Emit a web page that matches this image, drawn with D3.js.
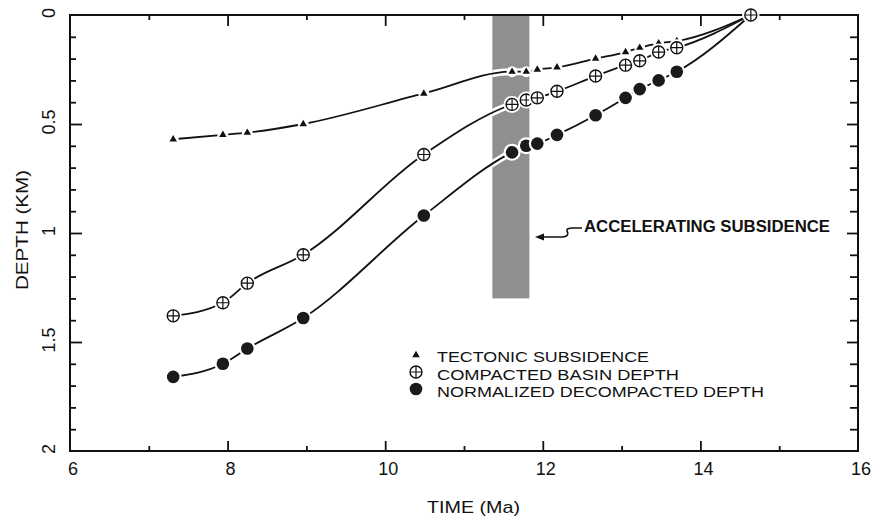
<!DOCTYPE html>
<html lang="en">
<head>
<meta charset="utf-8">
<title>Subsidence history</title>
<script src="https://cdn.jsdelivr.net/npm/d3@7"></script>
<style>
  body { margin: 0; background: #fff; }
  svg { display: block; }
  text { font-family: "Liberation Sans", "DejaVu Sans", sans-serif; fill: #111; }
</style>
</head>
<body>
<svg id="chart" width="872" height="517"></svg>
<script>
// ages (Ma) shared by the three series
var times = [7.31, 7.94, 8.25, 8.96, 10.49, 11.61, 11.79, 11.93, 12.18, 12.67, 13.05, 13.23, 13.47, 13.70, 14.64];
// depths (km)
var tectonic    = [0.57, 0.55, 0.54, 0.50, 0.36, 0.26, 0.26, 0.25, 0.24, 0.20, 0.17, 0.15, 0.13, 0.12, 0];
var compacted   = [1.38, 1.32, 1.23, 1.10, 0.64, 0.41, 0.39, 0.38, 0.35, 0.28, 0.23, 0.21, 0.17, 0.15, 0];
var decompacted = [1.66, 1.60, 1.53, 1.39, 0.92, 0.63, 0.60, 0.59, 0.55, 0.46, 0.38, 0.34, 0.30, 0.26, 0];

var xTicks = [6, 8, 10, 12, 14, 16];
var xMinor = [7, 9, 11, 13, 15];
var yTicks = [0, 0.5, 1, 1.5, 2];
var yTickLabels = ["0", "0.5", "1", "1.5", "2"];
var yMinor = [0.1, 0.2, 0.3, 0.4, 0.6, 0.7, 0.8, 0.9, 1.1, 1.2, 1.3, 1.4, 1.6, 1.7, 1.8, 1.9];

// accelerating subsidence interval
var bandTime = [11.36, 11.83];
var bandDepth = [0, 1.3];

var legendLabels = ["TECTONIC SUBSIDENCE", "COMPACTED BASIN DEPTH", "NORMALIZED DECOMPACTED DEPTH"];

var svg = d3.select("#chart");
var x = d3.scaleLinear().domain([6, 16]).range([70, 858]);
var y = d3.scaleLinear().domain([0, 2]).range([15, 451]);

var series = [
  { key: "tri", values: tectonic },
  { key: "dot", values: decompacted },
  { key: "plus", values: compacted }
];

// shaded band
svg.append("defs").append("clipPath").attr("id", "bandClip")
  .append("rect")
  .attr("x", x(bandTime[0])).attr("y", y(bandDepth[0]))
  .attr("width", x(bandTime[1]) - x(bandTime[0]))
  .attr("height", y(bandDepth[1]) - y(bandDepth[0]));

svg.append("rect")
  .attr("x", x(bandTime[0])).attr("y", y(bandDepth[0]))
  .attr("width", x(bandTime[1]) - x(bandTime[0]))
  .attr("height", y(bandDepth[1]) - y(bandDepth[0]))
  .attr("fill", "#8f8f8f");

// axes: ticks point inward
function tickStyle(g) {
  g.select(".domain").remove();
  g.selectAll(".tick line").attr("stroke", "#111").attr("stroke-width", 1.8);
  g.selectAll(".tick text").remove();
}
svg.append("g").attr("transform", "translate(0,451)")
  .call(d3.axisBottom(x).tickValues(xTicks.slice(1, -1)).tickSize(-10)).call(tickStyle);
svg.append("g").attr("transform", "translate(0,451)")
  .call(d3.axisBottom(x).tickValues(xMinor).tickSize(-5)).call(tickStyle);
svg.append("g").attr("transform", "translate(0,15)")
  .call(d3.axisTop(x).tickValues(xTicks.slice(1, -1)).tickSize(-11)).call(tickStyle);
svg.append("g").attr("transform", "translate(0,15)")
  .call(d3.axisTop(x).tickValues(xMinor).tickSize(-5)).call(tickStyle);
svg.append("g").attr("transform", "translate(70,0)")
  .call(d3.axisLeft(y).tickValues(yTicks.slice(1, -1)).tickSize(-12)).call(tickStyle);
svg.append("g").attr("transform", "translate(70,0)")
  .call(d3.axisLeft(y).tickValues(yMinor).tickSize(-6)).call(tickStyle);
svg.append("g").attr("transform", "translate(858,0)")
  .call(d3.axisRight(y).tickValues(yTicks.slice(1, -1)).tickSize(-11)).call(tickStyle);
svg.append("g").attr("transform", "translate(858,0)")
  .call(d3.axisRight(y).tickValues(yMinor).tickSize(-8)).call(tickStyle);

svg.append("rect")
  .attr("x", 70).attr("y", 15).attr("width", 788).attr("height", 436)
  .attr("fill", "none").attr("stroke", "#111").attr("stroke-width", 2);

// tick labels
svg.append("g").selectAll("text").data(xTicks).enter().append("text")
  .attr("x", function (d) { return x(d) + 3; })
  .attr("y", 475)
  .attr("text-anchor", "middle")
  .attr("font-size", 18)
  .text(function (d) { return d; });

svg.append("g").selectAll("text").data(yTicks).enter().append("text")
  .attr("transform", function (d) { return "translate(55," + (y(d) - 2) + ") rotate(-90)"; })
  .attr("text-anchor", "middle")
  .attr("font-size", 18)
  .text(function (d, i) { return yTickLabels[i]; });

svg.append("text")
  .attr("transform", "translate(28,230) rotate(-90)")
  .attr("text-anchor", "middle")
  .attr("font-size", 17)
  .attr("textLength", 120).attr("lengthAdjust", "spacingAndGlyphs")
  .text("DEPTH (KM)");

svg.append("text")
  .attr("x", 427).attr("y", 513)
  .attr("font-size", 17)
  .attr("textLength", 93).attr("lengthAdjust", "spacingAndGlyphs")
  .text("TIME (Ma)");

// lines
var line = d3.line()
  .x(function (d, i) { return x(times[i]); })
  .y(function (d) { return y(d); })
  .curve(d3.curveMonotoneX);

series.forEach(function (s) {
  svg.append("path").datum(s.values)
    .attr("d", line)
    .attr("clip-path", "url(#bandClip)")
    .attr("fill", "none").attr("stroke", "#fff").attr("stroke-width", 7);
});
series.forEach(function (s) {
  svg.append("path").datum(s.values)
    .attr("d", line)
    .attr("fill", "none").attr("stroke", "#111").attr("stroke-width", 1.8);
});

// markers
function drawMarker(g, key, cx, cy) {
  if (key === "tri") {
    g.append("circle").attr("cx", cx).attr("cy", cy).attr("r", 5.5).attr("fill", "#fff");
    g.append("path").attr("transform", "translate(" + cx + "," + cy + ")")
      .attr("d", d3.symbol().type(d3.symbolTriangle).size(24)()).attr("fill", "#111");
  } else if (key === "dot") {
    g.append("circle").attr("cx", cx).attr("cy", cy).attr("r", 8.5).attr("fill", "#fff");
    g.append("circle").attr("cx", cx).attr("cy", cy).attr("r", 6.3).attr("fill", "#1a1a1a");
  } else {
    g.append("circle").attr("cx", cx).attr("cy", cy).attr("r", 8.5).attr("fill", "#fff");
    g.append("circle").attr("cx", cx).attr("cy", cy).attr("r", 6)
      .attr("fill", "#fff").attr("stroke", "#111").attr("stroke-width", 1.4);
    g.append("path")
      .attr("d", "M" + (cx - 6) + "," + cy + "H" + (cx + 6) + "M" + cx + "," + (cy - 6) + "V" + (cy + 6))
      .attr("stroke", "#111").attr("stroke-width", 1.2);
  }
}

series.forEach(function (s) {
  var g = svg.append("g");
  s.values.forEach(function (v, i) { drawMarker(g, s.key, x(times[i]), y(v)); });
});

// legend
var legend = svg.append("g");
["tri", "plus", "dot"].forEach(function (k, i) {
  var cy = 355 + i * 17;
  if (k === "tri") {
    legend.append("path").attr("transform", "translate(416," + cy + ")")
      .attr("d", d3.symbol().type(d3.symbolTriangle).size(24)()).attr("fill", "#111");
  } else {
    drawMarker(legend, k, 416, cy);
  }
});
var legendWidths = [212, 242, 327];
legend.selectAll("text").data(legendLabels).enter().append("text")
  .attr("x", 437)
  .attr("y", function (d, i) { return 362 + i * 17.5; })
  .attr("font-size", 15)
  .attr("textLength", function (d, i) { return legendWidths[i]; })
  .attr("lengthAdjust", "spacingAndGlyphs")
  .text(function (d) { return d; });

// annotation
svg.append("path")
  .attr("d", "M541,237 H563 Q570,236 567,231 Q566,228 573,228 H582")
  .attr("fill", "none").attr("stroke", "#111").attr("stroke-width", 1.6);
svg.append("path")
  .attr("d", "M535,237 L544,233.5 L544,240.5 Z").attr("fill", "#111");
svg.append("text")
  .attr("x", 584).attr("y", 232)
  .attr("font-size", 16).attr("font-weight", "bold")
  .attr("textLength", 246).attr("lengthAdjust", "spacingAndGlyphs")
  .text("ACCELERATING SUBSIDENCE");
</script>
</body>
</html>
